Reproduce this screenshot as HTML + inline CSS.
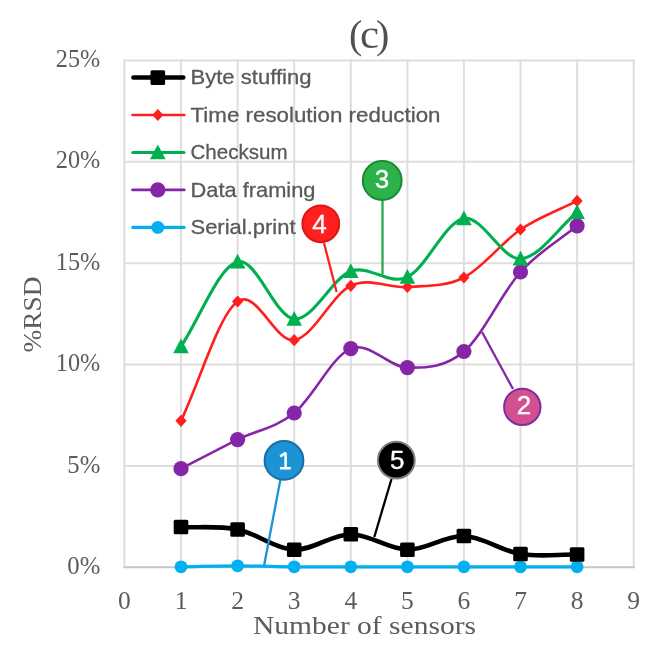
<!DOCTYPE html>
<html><head><meta charset="utf-8"><style>
html,body{margin:0;padding:0;background:#fff;}
body{width:667px;height:655px;overflow:hidden;}
svg{display:block;filter:blur(0.35px);}
.serif{font-family:"Liberation Serif",serif;fill:#5c5c5c;}
.sans{font-family:"Liberation Sans",sans-serif;}
</style></head><body>
<svg width="667" height="655" viewBox="0 0 667 655">
<g stroke="#dedede" stroke-width="2"><line x1="124.4" y1="59.5" x2="124.4" y2="567" /><line x1="181.0" y1="59.5" x2="181.0" y2="567" /><line x1="237.6" y1="59.5" x2="237.6" y2="567" /><line x1="294.2" y1="59.5" x2="294.2" y2="567" /><line x1="350.8" y1="59.5" x2="350.8" y2="567" /><line x1="407.4" y1="59.5" x2="407.4" y2="567" /><line x1="463.9" y1="59.5" x2="463.9" y2="567" /><line x1="520.5" y1="59.5" x2="520.5" y2="567" /><line x1="577.1" y1="59.5" x2="577.1" y2="567" /><line x1="633.7" y1="59.5" x2="633.7" y2="567" /><line x1="123.4" y1="465.9" x2="634.7" y2="465.9" /><line x1="123.4" y1="364.5" x2="634.7" y2="364.5" /><line x1="123.4" y1="263.2" x2="634.7" y2="263.2" /><line x1="123.4" y1="161.8" x2="634.7" y2="161.8" /><line x1="123.4" y1="60.5" x2="634.7" y2="60.5" /></g>
<line x1="123.4" y1="567.2" x2="634.7" y2="567.2" stroke="#c6c6c6" stroke-width="2"/>
<g style="font-family:'Liberation Serif',serif;fill:#505050" font-size="40"><text x="355.6" y="48" text-anchor="middle">(</text><text x="369.5" y="48" text-anchor="middle" textLength="19" lengthAdjust="spacingAndGlyphs">c</text><text x="382.6" y="48" text-anchor="middle">)</text></g>
<text class="serif" x="100.3" y="573.8" font-size="25" text-anchor="end" textLength="33.0" lengthAdjust="spacingAndGlyphs">0%</text>
<text class="serif" x="100.3" y="472.5" font-size="25" text-anchor="end" textLength="33.0" lengthAdjust="spacingAndGlyphs">5%</text>
<text class="serif" x="100.3" y="371.1" font-size="25" text-anchor="end" textLength="44.5" lengthAdjust="spacingAndGlyphs">10%</text>
<text class="serif" x="100.3" y="269.8" font-size="25" text-anchor="end" textLength="44.5" lengthAdjust="spacingAndGlyphs">15%</text>
<text class="serif" x="100.3" y="168.4" font-size="25" text-anchor="end" textLength="44.5" lengthAdjust="spacingAndGlyphs">20%</text>
<text class="serif" x="100.3" y="67.1" font-size="25" text-anchor="end" textLength="44.5" lengthAdjust="spacingAndGlyphs">25%</text>
<text class="serif" x="124.4" y="609" font-size="25.5" text-anchor="middle">0</text>
<text class="serif" x="181.0" y="609" font-size="25.5" text-anchor="middle">1</text>
<text class="serif" x="237.6" y="609" font-size="25.5" text-anchor="middle">2</text>
<text class="serif" x="294.2" y="609" font-size="25.5" text-anchor="middle">3</text>
<text class="serif" x="350.8" y="609" font-size="25.5" text-anchor="middle">4</text>
<text class="serif" x="407.4" y="609" font-size="25.5" text-anchor="middle">5</text>
<text class="serif" x="463.9" y="609" font-size="25.5" text-anchor="middle">6</text>
<text class="serif" x="520.5" y="609" font-size="25.5" text-anchor="middle">7</text>
<text class="serif" x="577.1" y="609" font-size="25.5" text-anchor="middle">8</text>
<text class="serif" x="633.7" y="609" font-size="25.5" text-anchor="middle">9</text>
<text class="serif" x="364.5" y="634" font-size="26" text-anchor="middle" textLength="223" lengthAdjust="spacingAndGlyphs">Number of sensors</text>
<text class="serif" font-size="26" text-anchor="middle" transform="translate(41,314.5) rotate(-90)" textLength="76" lengthAdjust="spacingAndGlyphs">%RSD</text>
<path d="M180.99,566.80 C199.85,566.47 218.72,565.80 237.58,565.80 C256.44,565.80 275.31,566.63 294.17,566.80 C313.03,566.97 331.90,566.80 350.76,566.80 C369.62,566.80 388.49,566.80 407.35,566.80 C426.21,566.80 445.08,566.80 463.94,566.80 C482.80,566.80 501.67,566.80 520.53,566.80 C539.39,566.80 558.26,566.80 577.12,566.80" fill="none" stroke="#00b0f0" stroke-width="3.2" stroke-linejoin="round" stroke-linecap="round"/>
<circle cx="181.0" cy="566.8" r="6.4" fill="#00b0f0"/><circle cx="237.6" cy="565.8" r="6.4" fill="#00b0f0"/><circle cx="294.2" cy="566.8" r="6.4" fill="#00b0f0"/><circle cx="350.8" cy="566.8" r="6.4" fill="#00b0f0"/><circle cx="407.4" cy="566.8" r="6.4" fill="#00b0f0"/><circle cx="463.9" cy="566.8" r="6.4" fill="#00b0f0"/><circle cx="520.5" cy="566.8" r="6.4" fill="#00b0f0"/><circle cx="577.1" cy="566.8" r="6.4" fill="#00b0f0"/>
<path d="M180.99,527.00 C199.85,527.83 218.72,525.72 237.58,529.50 C256.44,533.28 275.31,548.92 294.17,549.70 C313.03,550.48 331.90,534.20 350.76,534.20 C369.62,534.20 388.49,549.40 407.35,549.70 C426.21,550.00 445.08,535.28 463.94,536.00 C482.80,536.72 501.67,550.92 520.53,554.00 C539.39,557.08 558.26,554.33 577.12,554.50" fill="none" stroke="#000000" stroke-width="4.6" stroke-linejoin="round" stroke-linecap="round"/>
<rect x="173.7" y="519.7" width="14.6" height="14.6" rx="1.5" fill="#000000"/><rect x="230.3" y="522.2" width="14.6" height="14.6" rx="1.5" fill="#000000"/><rect x="286.9" y="542.4" width="14.6" height="14.6" rx="1.5" fill="#000000"/><rect x="343.5" y="526.9" width="14.6" height="14.6" rx="1.5" fill="#000000"/><rect x="400.1" y="542.4" width="14.6" height="14.6" rx="1.5" fill="#000000"/><rect x="456.6" y="528.7" width="14.6" height="14.6" rx="1.5" fill="#000000"/><rect x="513.2" y="546.7" width="14.6" height="14.6" rx="1.5" fill="#000000"/><rect x="569.8" y="547.2" width="14.6" height="14.6" rx="1.5" fill="#000000"/>
<path d="M180.99,468.70 C199.85,459.00 218.72,448.88 237.58,439.60 C256.44,430.32 275.31,428.17 294.17,413.00 C313.03,397.83 331.90,356.17 350.76,348.60 C369.62,341.03 388.49,367.12 407.35,367.60 C426.21,368.08 445.08,367.43 463.94,351.50 C482.80,335.57 501.67,292.95 520.53,272.00 C539.39,251.05 558.26,241.20 577.12,225.80" fill="none" stroke="#8526a6" stroke-width="2.6" stroke-linejoin="round" stroke-linecap="round"/>
<circle cx="181.0" cy="468.7" r="7.6" fill="#8526a6"/><circle cx="237.6" cy="439.6" r="7.6" fill="#8526a6"/><circle cx="294.2" cy="413.0" r="7.6" fill="#8526a6"/><circle cx="350.8" cy="348.6" r="7.6" fill="#8526a6"/><circle cx="407.4" cy="367.6" r="7.6" fill="#8526a6"/><circle cx="463.9" cy="351.5" r="7.6" fill="#8526a6"/><circle cx="520.5" cy="272.0" r="7.6" fill="#8526a6"/><circle cx="577.1" cy="225.8" r="7.6" fill="#8526a6"/>
<path d="M180.99,420.80 C199.85,381.03 218.72,314.93 237.58,301.50 C256.44,288.07 275.31,342.82 294.17,340.20 C313.03,337.58 331.90,294.67 350.76,285.80 C369.62,276.93 388.49,288.38 407.35,287.00 C426.21,285.62 445.08,287.08 463.94,277.50 C482.80,267.92 501.67,242.27 520.53,229.50 C539.39,216.73 558.26,210.43 577.12,200.90" fill="none" stroke="#ff1f1f" stroke-width="2.6" stroke-linejoin="round" stroke-linecap="round"/>
<path d="M181.0,414.7L186.6,420.8L181.0,426.9L175.4,420.8Z" fill="#ff1f1f"/><path d="M237.6,295.4L243.2,301.5L237.6,307.6L232.0,301.5Z" fill="#ff1f1f"/><path d="M294.2,334.1L299.8,340.2L294.2,346.3L288.6,340.2Z" fill="#ff1f1f"/><path d="M350.8,279.7L356.4,285.8L350.8,291.9L345.2,285.8Z" fill="#ff1f1f"/><path d="M407.4,280.9L413.0,287.0L407.4,293.1L401.8,287.0Z" fill="#ff1f1f"/><path d="M463.9,271.4L469.5,277.5L463.9,283.6L458.3,277.5Z" fill="#ff1f1f"/><path d="M520.5,223.4L526.1,229.5L520.5,235.6L514.9,229.5Z" fill="#ff1f1f"/><path d="M577.1,194.8L582.7,200.9L577.1,207.0L571.5,200.9Z" fill="#ff1f1f"/>
<path d="M180.99,346.50 C199.85,318.27 218.72,266.38 237.58,261.80 C256.44,257.22 275.31,317.42 294.17,319.00 C313.03,320.58 331.90,278.28 350.76,271.30 C369.62,264.32 388.49,285.90 407.35,277.10 C426.21,268.30 445.08,221.55 463.94,218.50 C482.80,215.45 501.67,259.85 520.53,258.80 C539.39,257.75 558.26,227.73 577.12,212.20" fill="none" stroke="#00b050" stroke-width="3.1" stroke-linejoin="round" stroke-linecap="round"/>
<path d="M181.0,338.5L188.8,353.2L173.2,353.2Z" fill="#00b050"/><path d="M237.6,253.8L245.4,268.5L229.8,268.5Z" fill="#00b050"/><path d="M294.2,311.0L302.0,325.7L286.4,325.7Z" fill="#00b050"/><path d="M350.8,263.3L358.6,278.0L343.0,278.0Z" fill="#00b050"/><path d="M407.4,269.1L415.2,283.8L399.6,283.8Z" fill="#00b050"/><path d="M463.9,210.5L471.7,225.2L456.1,225.2Z" fill="#00b050"/><path d="M520.5,250.8L528.3,265.5L512.7,265.5Z" fill="#00b050"/><path d="M577.1,204.2L584.9,218.9L569.3,218.9Z" fill="#00b050"/>
<line x1="133.4" y1="77.6" x2="183.3" y2="77.6" stroke="#000000" stroke-width="4.5" stroke-linecap="round"/><rect x="150.5" y="70.3" width="14.6" height="14.6" rx="1.5" fill="#000000"/><text class="sans" x="190.5" y="84.2" font-size="21" fill="#595959" stroke="#595959" stroke-width="0.3" textLength="121" lengthAdjust="spacingAndGlyphs">Byte stuffing</text>
<line x1="132.5" y1="115.0" x2="184.3" y2="115.0" stroke="#ff1f1f" stroke-width="2.6" stroke-linecap="round"/><path d="M157.8,109.0L163.4,115.0L157.8,121.1L152.2,115.0Z" fill="#ff1f1f"/><text class="sans" x="190.5" y="121.6" font-size="21" fill="#595959" stroke="#595959" stroke-width="0.3" textLength="250" lengthAdjust="spacingAndGlyphs">Time resolution reduction</text>
<line x1="132.8" y1="152.5" x2="184.0" y2="152.5" stroke="#00b050" stroke-width="3.1" stroke-linecap="round"/><path d="M157.8,144.5L165.6,159.2L150.0,159.2Z" fill="#00b050"/><text class="sans" x="190.5" y="159.1" font-size="21" fill="#595959" stroke="#595959" stroke-width="0.3" textLength="97" lengthAdjust="spacingAndGlyphs">Checksum</text>
<line x1="132.5" y1="189.9" x2="184.3" y2="189.9" stroke="#8526a6" stroke-width="2.6" stroke-linecap="round"/><circle cx="157.8" cy="189.9" r="7.6" fill="#8526a6"/><text class="sans" x="190.5" y="196.5" font-size="21" fill="#595959" stroke="#595959" stroke-width="0.3" textLength="125" lengthAdjust="spacingAndGlyphs">Data framing</text>
<line x1="132.8" y1="227.4" x2="184.0" y2="227.4" stroke="#00b0f0" stroke-width="3.2" stroke-linecap="round"/><circle cx="157.8" cy="227.4" r="6.4" fill="#00b0f0"/><text class="sans" x="190.5" y="234.0" font-size="21" fill="#595959" stroke="#595959" stroke-width="0.3" textLength="105" lengthAdjust="spacingAndGlyphs">Serial.print</text>
<line x1="280.5" y1="479.0" x2="264.0" y2="566.0" stroke="#1b93d4" stroke-width="2.3"/><circle cx="284.0" cy="460.4" r="19.4" fill="#1b93d4" stroke="#196fa5" stroke-width="2"/><path d="M280.2,456.4 L285.6,452.9 L285.6,468.3 M279.9,468.3 L290.8,468.3" fill="none" stroke="#ffffff" stroke-width="2.5" stroke-linejoin="bevel"/>
<line x1="513.0" y1="389.0" x2="482.0" y2="332.0" stroke="#8526a6" stroke-width="2.3"/><circle cx="522.3" cy="406.9" r="18.2" fill="#d2508f" stroke="#7a2ea0" stroke-width="2"/><text class="sans" x="524.00" y="413.50" font-size="26" fill="#ffffff" stroke="#ffffff" stroke-width="0.35" text-anchor="middle">2</text>
<line x1="382.5" y1="200.0" x2="382.5" y2="274.5" stroke="#2aa84a" stroke-width="2.3"/><circle cx="382.2" cy="180.5" r="19.4" fill="#2db24b" stroke="#1a8a35" stroke-width="2"/><text class="sans" x="382.00" y="188.30" font-size="26" fill="#ffffff" stroke="#ffffff" stroke-width="0.35" text-anchor="middle">3</text>
<line x1="324.0" y1="243.0" x2="336.6" y2="292.0" stroke="#ff2020" stroke-width="2.3"/><circle cx="320.8" cy="223.8" r="18.4" fill="#ff2020" stroke="#e01515" stroke-width="2"/><text class="sans" x="319.50" y="232.50" font-size="26" fill="#ffffff" stroke="#ffffff" stroke-width="0.35" text-anchor="middle">4</text>
<line x1="391.5" y1="479.0" x2="374.3" y2="537.0" stroke="#000000" stroke-width="2.3"/><circle cx="396.3" cy="460.2" r="18.4" fill="#000000" stroke="#808080" stroke-width="2"/><text class="sans" x="397.20" y="469.30" font-size="26" fill="#ffffff" stroke="#ffffff" stroke-width="0.35" text-anchor="middle">5</text>
</svg>
</body></html>
